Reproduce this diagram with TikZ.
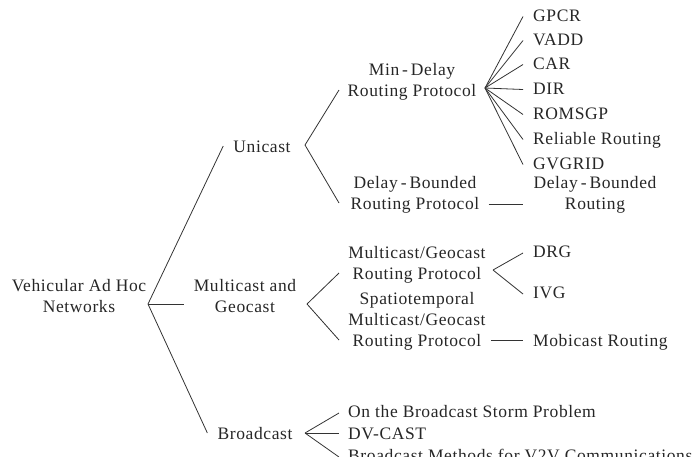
\documentclass[tikz,border=0pt]{standalone}
\usepackage{fontspec}
\setmainfont{Liberation Serif}[LetterSpace=3.5]
\begin{document}
\begin{tikzpicture}[x=1pt,y=-1pt,
  lbl/.style={inner sep=0pt, text height=12pt, text depth=0pt, align=center,
    font=\fontsize{17.5}{21}\selectfont, text=black!85},
  leaf/.style={lbl, anchor=west, align=left},
  conn/.style={line width=0.8pt, draw=black!80}]
\useasboundingbox (0,0) rectangle (692,456);
\clip (0,0) rectangle (692,456);
% nodes
\node[lbl] (root) at (79,306) {Vehicular Ad Hoc\\Networks};
\node[lbl] (uni) at (262,146) {Unicast};
\node[lbl] (mg) at (245,306) {Multicast and\\Geocast};
\node[lbl] (bc) at (255,433) {Broadcast};
\node[lbl] (mind) at (412,90) {Min\,-\,Delay\\Routing Protocol};
\node[lbl] (dbrp) at (415,203) {Delay\,-\,Bounded\\Routing Protocol};
\node[lbl] (mgrp) at (417,273) {Multicast/Geocast\\Routing Protocol};
\node[lbl] (stmg) at (417,340) {Spatiotemporal\\Multicast/Geocast\\Routing Protocol};
\node[leaf] (gpcr) at (533,15) {GPCR};
\node[leaf] (vadd) at (533,39) {VADD};
\node[leaf] (car) at (533,63) {CAR};
\node[leaf] (dir) at (533,88) {DIR};
\node[leaf] (roms) at (533,113) {ROMSGP};
\node[leaf] (rel) at (533,138) {Reliable Routing};
\node[leaf] (gvg) at (533,163) {GVGRID};
\node[lbl] (dbr) at (595,203) {Delay\,-\,Bounded\\Routing};
\node[leaf] (drg) at (533,251) {DRG};
\node[leaf] (ivg) at (533,292) {IVG};
\node[leaf] (mob) at (533,340) {Mobicast Routing};
\node[leaf] (storm) at (348,411) {On the Broadcast Storm Problem};
\node[leaf] (dv) at (348,433) {DV-CAST};
\node[leaf] (bm) at (348,455) {Broadcast Methods for V2V Communications};
% fan points and columns
\coordinate (f0) at (148,304);
\coordinate (fu) at (305,145);
\coordinate (fmin) at (485,88);
\coordinate (fmg) at (307,304);
\coordinate (fmgrp) at (493,270);
\coordinate (fbc) at (305,433);
\coordinate (c1) at (339,0);
\coordinate (c2) at (523,0);
% connectors
\draw[conn] (f0) -- ([xshift=-10pt]uni.west);
\draw[conn] (f0) -- ([xshift=-10pt]mg.west |- f0);
\draw[conn] (f0) -- ([xshift=-10pt]bc.west);
\draw[conn] (fu) -- (c1 |- mind.west);
\draw[conn] (fu) -- (c1 |- dbrp.west);
\foreach \n in {gpcr,vadd,car,dir,roms,rel,gvg}
  \draw[conn] (fmin) -- ([yshift=-1.5pt]c2 |- \n.west);
\draw[conn] ([xshift=9pt,yshift=-1pt]dbrp.east) -- ([yshift=-1pt]c2 |- dbrp.east);
\draw[conn] (fmg) -- (c1 |- mgrp.west);
\draw[conn] (fmg) -- (c1 |- stmg.west);
\draw[conn] (fmgrp) -- ([yshift=-2pt]c2 |- drg.west);
\draw[conn] (fmgrp) -- ([yshift=-2pt]c2 |- ivg.west);
\draw[conn] ([xshift=5pt]stmg.east) -- (c2 |- stmg.east);
\draw[conn] (fbc) -- ([yshift=-2pt]c1 |- storm.west);
\draw[conn] (fbc) -- (c1 |- dv.west);
\draw[conn] (fbc) -- ([yshift=-2pt]c1 |- bm.west);
\end{tikzpicture}
\end{document}
